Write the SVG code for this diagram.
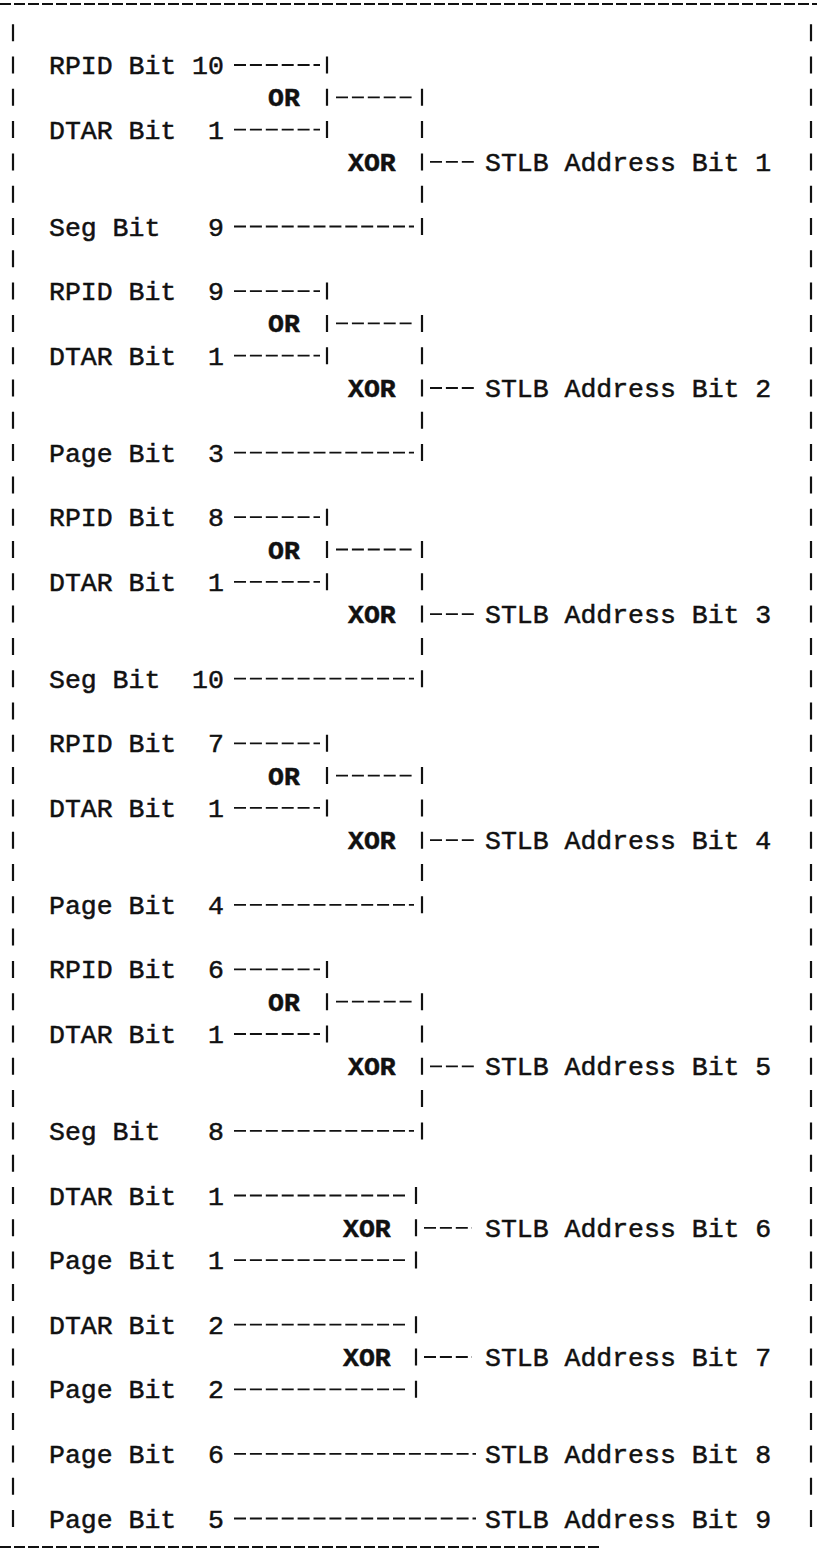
<svg xmlns="http://www.w3.org/2000/svg" width="817" height="1553" viewBox="0 0 817 1553" xml:space="preserve">
<style>
text{font-family:"Liberation Mono","DejaVu Sans Mono",monospace;font-size:26.5px;fill:#111;stroke:#111;stroke-width:0.5;white-space:pre}
.g{font-weight:bold}
.h{stroke:#111;stroke-width:1.8;stroke-dasharray:12 3.9;fill:none}
.v{stroke:#111;stroke-width:2.2;stroke-dasharray:17 15.3;fill:none}
.b{stroke:#111;stroke-width:2;stroke-dasharray:11 3;fill:none}
</style>
<rect width="817" height="1553" fill="#fff"/>
<g id="frame">
<line class="b" x1="0" y1="4" x2="817" y2="4"/>
<line class="b" x1="0" y1="1547" x2="600" y2="1547"/>
<line class="v" x1="13" y1="24.2" x2="13" y2="1527"/>
<line class="v" x1="811" y1="24.2" x2="811" y2="1527"/>
</g>
<g id="connectors">
<!-- group 1 -->
<line class="h" x1="234" y1="65" x2="320" y2="65"/>
<line class="h" x1="336" y1="97.3" x2="414" y2="97.3"/>
<line class="h" x1="234" y1="129.6" x2="320" y2="129.6"/>
<line class="h" x1="430" y1="161.9" x2="476" y2="161.9"/>
<line class="h" x1="234" y1="226.5" x2="414" y2="226.5"/>
<line class="v" x1="327" y1="56.5" x2="327" y2="138.1"/>
<line class="v" x1="422" y1="88.8" x2="422" y2="235"/>
<!-- group 2 -->
<line class="h" x1="234" y1="291.1" x2="320" y2="291.1"/>
<line class="h" x1="336" y1="323.4" x2="414" y2="323.4"/>
<line class="h" x1="234" y1="355.7" x2="320" y2="355.7"/>
<line class="h" x1="430" y1="388" x2="476" y2="388"/>
<line class="h" x1="234" y1="452.6" x2="414" y2="452.6"/>
<line class="v" x1="327" y1="282.6" x2="327" y2="364.2"/>
<line class="v" x1="422" y1="314.9" x2="422" y2="461.1"/>
<!-- group 3 -->
<line class="h" x1="234" y1="517.2" x2="320" y2="517.2"/>
<line class="h" x1="336" y1="549.5" x2="414" y2="549.5"/>
<line class="h" x1="234" y1="581.8" x2="320" y2="581.8"/>
<line class="h" x1="430" y1="614.1" x2="476" y2="614.1"/>
<line class="h" x1="234" y1="678.7" x2="414" y2="678.7"/>
<line class="v" x1="327" y1="508.7" x2="327" y2="590.3"/>
<line class="v" x1="422" y1="541" x2="422" y2="687.2"/>
<!-- group 4 -->
<line class="h" x1="234" y1="743.3" x2="320" y2="743.3"/>
<line class="h" x1="336" y1="775.6" x2="414" y2="775.6"/>
<line class="h" x1="234" y1="807.9" x2="320" y2="807.9"/>
<line class="h" x1="430" y1="840.2" x2="476" y2="840.2"/>
<line class="h" x1="234" y1="904.8" x2="414" y2="904.8"/>
<line class="v" x1="327" y1="734.8" x2="327" y2="816.4"/>
<line class="v" x1="422" y1="767.1" x2="422" y2="913.3"/>
<!-- group 5 -->
<line class="h" x1="234" y1="969.4" x2="320" y2="969.4"/>
<line class="h" x1="336" y1="1001.7" x2="414" y2="1001.7"/>
<line class="h" x1="234" y1="1034" x2="320" y2="1034"/>
<line class="h" x1="430" y1="1066.3" x2="476" y2="1066.3"/>
<line class="h" x1="234" y1="1130.9" x2="414" y2="1130.9"/>
<line class="v" x1="327" y1="960.9" x2="327" y2="1042.5"/>
<line class="v" x1="422" y1="993.2" x2="422" y2="1139.4"/>
<!-- group 6 -->
<line class="h" x1="234" y1="1195.5" x2="408" y2="1195.5"/>
<line class="h" x1="424" y1="1227.8" x2="472" y2="1227.8"/>
<line class="h" x1="234" y1="1260.1" x2="408" y2="1260.1"/>
<line class="v" x1="416" y1="1187" x2="416" y2="1268.6"/>
<!-- group 7 -->
<line class="h" x1="234" y1="1324.7" x2="408" y2="1324.7"/>
<line class="h" x1="424" y1="1357" x2="472" y2="1357"/>
<line class="h" x1="234" y1="1389.3" x2="408" y2="1389.3"/>
<line class="v" x1="416" y1="1316.2" x2="416" y2="1397.8"/>
<!-- direct -->
<line class="h" x1="234" y1="1453.9" x2="476" y2="1453.9"/>
<line class="h" x1="234" y1="1518.5" x2="476" y2="1518.5"/>
</g>
<!-- group 1 nodes -->
<g id="in-rpid10"><text x="49" y="74">RPID Bit 10</text></g>
<g id="or1"><text class="g" x="268" y="106.3">OR</text></g>
<g id="in-dtar1-a"><text x="49" y="138.6">DTAR Bit  1</text></g>
<g id="xor1"><text class="g" x="348" y="170.9">XOR</text></g>
<g id="out1"><text x="485" y="170.9">STLB Address Bit 1</text></g>
<g id="in-seg9"><text x="49" y="235.5">Seg Bit   9</text></g>
<!-- group 2 -->
<g id="in-rpid9"><text x="49" y="300.1">RPID Bit  9</text></g>
<g id="or2"><text class="g" x="268" y="332.4">OR</text></g>
<g id="in-dtar1-b"><text x="49" y="364.7">DTAR Bit  1</text></g>
<g id="xor2"><text class="g" x="348" y="397">XOR</text></g>
<g id="out2"><text x="485" y="397">STLB Address Bit 2</text></g>
<g id="in-page3"><text x="49" y="461.6">Page Bit  3</text></g>
<!-- group 3 -->
<g id="in-rpid8"><text x="49" y="526.2">RPID Bit  8</text></g>
<g id="or3"><text class="g" x="268" y="558.5">OR</text></g>
<g id="in-dtar1-c"><text x="49" y="590.8">DTAR Bit  1</text></g>
<g id="xor3"><text class="g" x="348" y="623.1">XOR</text></g>
<g id="out3"><text x="485" y="623.1">STLB Address Bit 3</text></g>
<g id="in-seg10"><text x="49" y="687.7">Seg Bit  10</text></g>
<!-- group 4 -->
<g id="in-rpid7"><text x="49" y="752.3">RPID Bit  7</text></g>
<g id="or4"><text class="g" x="268" y="784.6">OR</text></g>
<g id="in-dtar1-d"><text x="49" y="816.9">DTAR Bit  1</text></g>
<g id="xor4"><text class="g" x="348" y="849.2">XOR</text></g>
<g id="out4"><text x="485" y="849.2">STLB Address Bit 4</text></g>
<g id="in-page4"><text x="49" y="913.8">Page Bit  4</text></g>
<!-- group 5 -->
<g id="in-rpid6"><text x="49" y="978.4">RPID Bit  6</text></g>
<g id="or5"><text class="g" x="268" y="1010.7">OR</text></g>
<g id="in-dtar1-e"><text x="49" y="1043">DTAR Bit  1</text></g>
<g id="xor5"><text class="g" x="348" y="1075.3">XOR</text></g>
<g id="out5"><text x="485" y="1075.3">STLB Address Bit 5</text></g>
<g id="in-seg8"><text x="49" y="1139.9">Seg Bit   8</text></g>
<!-- group 6 -->
<g id="in-dtar1-f"><text x="49" y="1204.5">DTAR Bit  1</text></g>
<g id="xor6"><text class="g" x="343" y="1236.8">XOR</text></g>
<g id="out6"><text x="485" y="1236.8">STLB Address Bit 6</text></g>
<g id="in-page1"><text x="49" y="1269.1">Page Bit  1</text></g>
<!-- group 7 -->
<g id="in-dtar2"><text x="49" y="1333.7">DTAR Bit  2</text></g>
<g id="xor7"><text class="g" x="343" y="1366">XOR</text></g>
<g id="out7"><text x="485" y="1366">STLB Address Bit 7</text></g>
<g id="in-page2"><text x="49" y="1398.3">Page Bit  2</text></g>
<!-- direct -->
<g id="in-page6"><text x="49" y="1462.9">Page Bit  6</text></g>
<g id="out8"><text x="485" y="1462.9">STLB Address Bit 8</text></g>
<g id="in-page5"><text x="49" y="1527.5">Page Bit  5</text></g>
<g id="out9"><text x="485" y="1527.5">STLB Address Bit 9</text></g>
</svg>
